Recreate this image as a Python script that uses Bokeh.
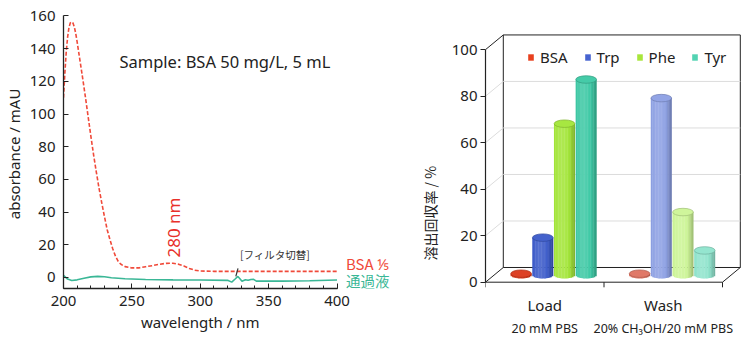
import numpy as np
from bokeh.plotting import figure
from bokeh.layouts import row
from bokeh.models import (Label, Range1d, FixedTicker, Legend, LegendItem,
                          ColumnDataSource, LinearAxis)
from bokeh.embed import file_html
from bokeh.resources import INLINE
from bokeh.core.properties import value

# ---------------- data: left panel (UV spectra) ----------------
wl_bsa = [200, 201, 202, 203, 204, 205, 206, 207, 208, 209, 210, 212, 214, 216,
          218, 220, 222, 224, 226, 228, 230, 232, 234, 236, 238, 240, 242, 245,
          250, 255, 260, 265, 270, 275, 280, 284, 288, 292, 296, 300, 310, 400]
abs_bsa = [110, 125, 138, 147, 153, 155.8, 156.4, 155.6, 153, 149, 144, 133,
           122, 110.5, 98.5, 86.5, 75, 64.5, 54.5, 45.5, 37, 29, 23, 17.5, 13,
           9.8, 8, 6.6, 5.8, 5.8, 6.5, 7.2, 8, 8.6, 8.7, 8.1, 7, 5.5, 4.4, 3.9,
           3.7, 3.7]
wl_flow = [200, 203, 206, 210, 215, 220, 225, 230, 235, 245, 260, 280, 300, 320,
           323, 325.5, 327.5, 329, 330.5, 333, 335, 337, 339, 341, 345, 360,
           380, 400]
abs_flow = [1.2, -1.0, -1.9, -1.5, -0.5, 0.3, 0.6, 0.4, -0.2, -0.8, -1.3, -1.5,
            -1.6, -1.8, -2.9, -1.0, 0.6, -0.8, -2.3, -1.4, -1.8, -1.3, -1.2,
            -2.3, -2.2, -2.3, -2.1, -1.6]
left_xticks = [200, 250, 300, 350, 400]
left_yticks = [0, 20, 40, 60, 80, 100, 120, 140, 160]
trace_names = ["BSA \u2155", "通過液"]

# ---------------- data: right panel (recovery) ----------------
groups = ["Load", "Wash"]
group_sub = ["20 mM PBS", "20% CH\u2083OH/20 mM PBS"]
series = ["BSA", "Trp", "Phe", "Tyr"]
load_vals = [0.5, 16, 65, 84]
wash_vals = [0.5, 76, 27, 10.5]
right_yticks = [0, 20, 40, 60, 80, 100]

LAT = "Noto Sans"
JP = "Noto Sans CJK JP"
INK = "#222222"
RED = "#f04a3a"
TEAL = "#3ab796"


def plain_axis(ax):
    ax.axis_line_color = None
    ax.major_tick_line_color = None
    ax.minor_tick_line_color = None
    ax.major_tick_out = 0
    ax.major_tick_in = 0
    ax.minor_tick_out = 0
    ax.minor_tick_in = 0


# ======================= left figure =======================
XL0, XL1 = left_xticks[0], left_xticks[-1]
PXN = 276 / (XL1 - XL0)            # px per nm
p1 = figure(width=395, height=345, x_range=Range1d(XL0, XL0 + 335 / PXN),
            y_range=Range1d(-6.8, 160.3), output_backend="svg",
            toolbar_location=None, min_border_left=60, min_border_right=0,
            min_border_top=15, min_border_bottom=57)
p1.outline_line_color = None
p1.xgrid.visible = False
p1.ygrid.visible = False

p1.line(wl_bsa, abs_bsa, line_color=RED, line_width=1.6, line_dash="4 2")
p1.line(wl_flow, abs_flow, line_color=TEAL, line_width=1.6)

p1.xaxis.ticker = FixedTicker(ticks=left_xticks, minor_ticks=list(range(XL0, XL1 + 1, 10)))
p1.xaxis.bounds = (XL0, XL1)
p1.yaxis.ticker = FixedTicker(ticks=left_yticks, minor_ticks=[])
for ax in (p1.xaxis[0], p1.yaxis[0]):
    ax.axis_line_color = INK
    ax.axis_line_width = 1.3
    ax.major_tick_line_color = INK
    ax.minor_tick_line_color = INK
    ax.major_tick_in = 5
    ax.major_tick_out = 0
    ax.minor_tick_in = 3
    ax.minor_tick_out = 0
    ax.major_label_text_font = LAT
    ax.major_label_text_font_size = "15px"
    ax.major_label_text_color = INK
    ax.axis_label_text_font = LAT
    ax.axis_label_text_font_size = "15px"
    ax.axis_label_text_font_style = "normal"
    ax.axis_label_text_color = INK
p1.xaxis.major_label_standoff = 7
p1.yaxis.axis_label = "absorbance  / mAU"
p1.yaxis.major_label_standoff = 8
p1.yaxis.axis_label_standoff = 3

# x-axis title centred on the 200-400 span
xt_mid = (XL0 + XL1) / 2
xtitle = LinearAxis(ticker=FixedTicker(ticks=[xt_mid], minor_ticks=[]),
                    major_label_overrides={xt_mid: "wavelength / nm"},
                    major_label_text_font=LAT, major_label_text_font_size="15px",
                    major_label_text_color=INK, major_label_standoff=3)
plain_axis(xtitle)
p1.add_layout(xtitle, "below")

p1.add_layout(Label(x=318, y=132, text="Sample: BSA 50 mg/L, 5 mL",
                    text_font=LAT, text_font_size="16.5px", text_color=INK,
                    text_align="center", text_baseline="middle"))
p1.add_layout(Label(x=280.4, y=30.5, text="280 nm", angle=np.pi / 2,
                    text_font=LAT, text_font_size="17px", text_color="#e8302a",
                    text_align="center", text_baseline="middle"))
p1.add_layout(Label(x=354.7, y=14, text="[フィルタ切替]", text_font=JP,
                    text_font_size="10.5px", text_color="#333333",
                    text_align="center", text_baseline="middle"))
p1.segment(x0=[327.6], y0=[5.5], x1=[326.0], y1=[0.6], line_color="#333333",
           line_width=1.2)
p1.text(x=[406.5, 406.5], y=[abs_bsa[-1] + 4.5, abs_flow[-1] - 0.6],
        text=trace_names, text_color=[RED, TEAL],
        text_font=value(JP), text_font_size=["15px", "14.5px"],
        text_align="left", text_baseline="middle")

# ======================= right figure =======================
PXU = 118.5          # px per x unit
PYU = 2.3256         # px per y unit
DX = 17.8 / PXU      # depth offset (x)
DY = 14.7 / PYU      # depth offset (y)
ymax = right_yticks[-1]
p2 = figure(width=355, height=345, x_range=Range1d(0, 265 / PXU),
            y_range=Range1d(-2.71, 114.68), output_backend="svg",
            toolbar_location=None,
            min_border_left=90, min_border_right=0, min_border_top=15,
            min_border_bottom=57)
p2.outline_line_color = None
p2.xgrid.visible = False
p2.ygrid.visible = False

# floor
p2.patch([0, 2, 2 + DX, DX], [0, 0, DY, DY], fill_color="white",
         line_color=INK, line_width=1)
# back wall
p2.quad(left=[DX], right=[2 + DX], bottom=[DY], top=[ymax + DY],
        fill_color="white", line_color=INK, line_width=1)
grid_v = right_yticks[1:-1]
p2.segment(x0=[DX] * len(grid_v), y0=[v + DY for v in grid_v],
           x1=[2 + DX] * len(grid_v), y1=[v + DY for v in grid_v],
           line_color="#dcdcdc", line_width=1)
p2.segment(x0=[0] * len(grid_v), y0=grid_v, x1=[DX] * len(grid_v),
           y1=[v + DY for v in grid_v], line_color="#dcdcdc", line_width=1)
# left wall top edge
p2.segment(x0=[0], y0=[ymax], x1=[DX], y1=[ymax + DY], line_color=INK,
           line_width=1)
# category ticks on the front floor edge
p2.segment(x0=[0, 1, 2], y0=[0, 0, 0], x1=[0, 1, 2], y1=[-2.2] * 3,
           line_color=INK, line_width=1)

load_cols = ["#dc3a1c", "#3d5cca", "#a4e63a", "#3ec9a5"]
wash_cols = ["#df7462", "#8ea1e4", "#cdf597", "#90e4cd"]
legend_cols = ["#e8401e", "#4663d0", "#a8e63c", "#52d3b2"]


def hex2rgb(h):
    return np.array([int(h[i:i + 2], 16) for i in (1, 3, 5)], dtype=float)


def shade(h, f):
    c = hex2rgb(h)
    if f >= 1:
        c = c + (255 - c) * (f - 1)
    else:
        c = c * f
    c = np.clip(c, 0, 255).astype(int)
    return "#%02x%02x%02x" % tuple(c)


BW = 20.7 / PXU      # bar (cylinder) width
STEP = 0.183
NS = 14
EH = 7.5             # ellipse height, px
base = DY / 2
sx, sb, st, sc, sw = [], [], [], [], []
ex, ey, ec, el = [], [], [], []
for gi, (vals, cols) in enumerate(((load_vals, load_cols), (wash_vals, wash_cols))):
    for si, (v, col) in enumerate(zip(vals, cols)):
        xc = gi + 0.5 + DX / 2 + (si - 1.5) * STEP
        for k in range(NS):
            t = (k + 0.5) / NS
            f = 0.80 + 0.32 * np.cos(np.pi * (t - 0.38) / 1.15)
            sx.append(xc - BW / 2 + t * BW)
            sw.append(BW / NS * 1.25)
            h = (EH / 2 / PYU) * np.sqrt(max(0.0, 1 - (2 * t - 1) ** 2))
            sb.append(base - h)
            st.append(base + v)
            sc.append(shade(col, f))
        ex.append(xc)
        ey.append(base + v)
        ec.append(shade(col, 1.04))
        el.append(shade(col, 0.78))

p2.vbar(x="x", bottom="b", top="t", width="w", fill_color="c", line_color=None,
        source=ColumnDataSource(dict(x=sx, b=sb, t=st, w=sw, c=sc)))
p2.ellipse(x="x", y="y", width=BW, height=EH, height_units="screen",
           fill_color="c", line_color="l", line_width=0.7,
           source=ColumnDataSource(dict(x=ex, y=ey, c=ec, l=el)))

# legend (proxy renderers with no visible data)
items = []
for name, col in zip(series, legend_cols):
    r = p2.vbar(x=[np.nan], top=[np.nan], width=0.1, fill_color=col,
                line_color=None)
    items.append(LegendItem(label=name, renderers=[r], index=0))
leg = Legend(items=items, orientation="horizontal", location=(42, 221),
             glyph_width=7, glyph_height=8, label_standoff=6, spacing=16,
             padding=0, margin=0, border_line_alpha=0,
             background_fill_alpha=0, label_text_font=LAT,
             label_text_font_size="15px", label_text_color=INK,
             label_height=8)
p2.add_layout(leg)

# y axis (front)
ya = p2.yaxis[0]
ya.ticker = FixedTicker(ticks=right_yticks, minor_ticks=[])
ya.bounds = (0, ymax)
ya.axis_line_color = INK
ya.axis_line_width = 1.2
ya.major_tick_line_color = INK
ya.major_tick_in = 0
ya.major_tick_out = 5
ya.minor_tick_in = 0
ya.minor_tick_out = 0
ya.major_label_standoff = 3
ya.major_label_text_font = LAT
ya.major_label_text_font_size = "15px"
ya.major_label_text_color = INK

# y-axis title centred on the 0-100 span
yt_mid = ymax / 2
ytitle = LinearAxis(ticker=FixedTicker(ticks=[yt_mid], minor_ticks=[]),
                    major_label_overrides={yt_mid: "溶出回収率 / %"},
                    major_label_orientation=np.pi / 2,
                    major_label_text_font=JP, major_label_text_font_size="14px",
                    major_label_text_color=INK, major_label_standoff=18)
plain_axis(ytitle)
p2.add_layout(ytitle, "left")

# category axes
cat_pos = [i + 0.5 for i in range(len(groups))]
xa = p2.xaxis[0]
xa.ticker = FixedTicker(ticks=cat_pos, minor_ticks=[])
xa.major_label_overrides = dict(zip(cat_pos, groups))
xa.major_label_text_font = LAT
xa.major_label_text_font_size = "15px"
xa.major_label_text_color = INK
xa.major_label_standoff = 6
plain_axis(xa)
sub_axis = LinearAxis(ticker=FixedTicker(ticks=cat_pos, minor_ticks=[]),
                      major_label_overrides=dict(zip(cat_pos, group_sub)),
                      major_label_text_font=LAT,
                      major_label_text_font_size="12.5px",
                      major_label_text_color=INK, major_label_standoff=2)
plain_axis(sub_axis)
p2.add_layout(sub_axis, "below")

layout = row(p1, p2, spacing=0)
open("out.html", "w").write(file_html(layout, INLINE))
